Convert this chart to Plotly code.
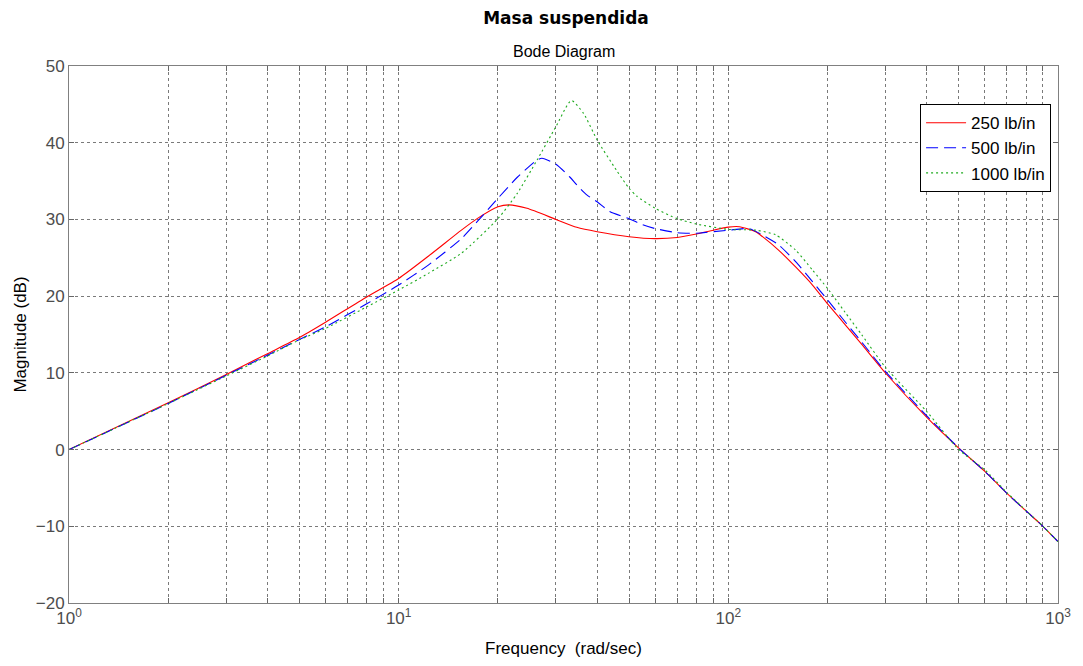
import plotly.graph_objects as go

# ---- data (frequency in rad/sec, magnitude in dB) ----
w_250 = [1, 2, 3, 4, 5, 6, 8, 10, 12.3, 15.5, 17.3, 20, 21.6, 24.5, 30, 34.7,
         40, 50, 60, 70, 80, 90, 100, 108, 121, 127, 142, 160, 180, 200, 226, 254,
         300, 400, 500, 600, 700, 800, 900, 1000]
db_250 = [0, 6.1, 9.8, 12.5, 14.6, 16.6, 19.9, 22.3, 25.2, 28.6, 30.1, 31.65,
          31.9, 31.45, 30.0, 28.97, 28.4, 27.75, 27.5, 27.65, 28.1, 28.6, 29.0, 29.05,
          28.4, 27.75, 26.0, 23.8, 21.45, 19.0, 16.3, 13.7, 9.95, 4.2, 0.2, -2.85,
          -5.7, -8.0, -10.0, -12.0]

w_500 = [1, 2, 3, 4, 5, 6, 8, 10, 12.3, 15.5, 17.3, 20, 22.9, 26.3, 27.2, 30, 33.1,
         34.7, 37.2, 40, 43.8, 50, 55, 60, 70, 80, 100, 115.6, 127, 142, 160, 180,
         200, 226, 254, 300, 400, 500, 600, 700, 800, 900, 1000]
db_500 = [0, 6.0, 9.7, 12.3, 14.35, 16.0, 19.0, 21.45, 24.05, 27.5, 29.7, 32.75,
          35.5, 37.75, 37.97, 37.2, 35.5, 34.5, 33.2, 32.3, 31.0, 30.1, 29.3, 28.8,
          28.27, 28.2, 28.6, 28.8, 27.97, 26.7, 24.5, 21.9, 19.5, 16.66, 14.0, 10.15,
          4.4, 0.2, -2.85, -5.7, -8.0, -10.0, -12.0]

w_1000 = [1, 2, 3, 4, 5, 6, 8, 10, 12.3, 15.5, 20, 22.9, 26.3, 30, 33.4, 36.4,
          40, 45.8, 50, 52.7, 60, 70, 80, 100, 121, 139, 160, 180, 200, 226, 254,
          300, 400, 500, 600, 700, 800, 900, 1000]
db_1000 = [0, 6.0, 9.6, 12.2, 14.3, 15.8, 18.6, 20.8, 22.97, 25.6, 30.1, 33.4,
           37.75, 42.1, 45.5, 43.8, 40.35, 36.4, 34.05, 33.05, 31.45, 30.1, 29.4,
           28.7, 28.6, 28.0, 26.0, 23.4, 21.0, 17.9, 14.95, 10.7, 4.95, 0.0,
           -2.65, -5.6, -7.95, -10.0, -12.0]

series_names = ["250 lb/in", "500 lb/in", "1000 lb/in"]

x_tick_vals = [1, 2, 3, 4, 5, 6, 7, 8, 9, 10, 20, 30, 40, 50, 60, 70, 80, 90,
               100, 200, 300, 400, 500, 600, 700, 800, 900, 1000]
x_tick_text = ["10<sup>0</sup>", "", "", "", "", "", "", "", "",
               "10<sup>1</sup>", "", "", "", "", "", "", "", "",
               "10<sup>2</sup>", "", "", "", "", "", "", "", "",
               "10<sup>3</sup>"]
y_tick_vals = [-20, -10, 0, 10, 20, 30, 40, 50]

# ---- figure ----
fig = go.Figure()
fig.add_trace(go.Scatter(x=w_250, y=db_250, mode="lines", name=series_names[0],
                         line=dict(color="#ff0000", width=1.1, shape="spline", smoothing=0.6)))
fig.add_trace(go.Scatter(x=w_500, y=db_500, mode="lines", name=series_names[1],
                         line=dict(color="#0000ff", width=1.1, dash="12px,6px",
                                   shape="spline", smoothing=0.6)))
fig.add_trace(go.Scatter(x=w_1000, y=db_1000, mode="lines", name=series_names[2],
                         line=dict(color="#1faa1f", width=1.1, dash="2px,3px",
                                   shape="spline", smoothing=0.6)))

sans = "Liberation Sans, Arial, sans-serif"
axis_font = dict(family=sans, size=17, color="#4d4d4d")

fig.update_layout(
    width=1083, height=666,
    margin=dict(l=69, r=19, t=66, b=63),
    paper_bgcolor="white", plot_bgcolor="white",
    font=dict(family=sans, color="black"),
    title=dict(text="<b>Masa suspendida</b>", x=566 / 1083, xanchor="center",
               y=1 - 18 / 666, yanchor="middle",
               font=dict(family="DejaVu Sans, sans-serif", size=17, color="black")),
    showlegend=True,
    legend=dict(x=0.993, xanchor="right", y=0.929, yanchor="top",
                bgcolor="white", bordercolor="black", borderwidth=1,
                font=dict(family=sans, size=17, color="black"),
                tracegroupgap=0, itemwidth=40),
    annotations=[dict(text="Bode Diagram", xref="paper", yref="paper", x=0.5, y=1,
                      yshift=4, xanchor="center", yanchor="bottom", showarrow=False,
                      font=dict(family=sans, size=16, color="black"))],
)

fig.update_xaxes(
    type="log", range=[0, 3],
    tickmode="array", tickvals=x_tick_vals, ticktext=x_tick_text,
    tickfont=axis_font, ticks="inside", ticklen=5, tickcolor="#666666",
    showline=True, linecolor="#808080", linewidth=1, mirror="ticks",
    showgrid=True, gridcolor="#7a7a7a", gridwidth=1, griddash="3px,3px",
    zeroline=False,
    title=dict(text="Frequency  (rad/sec)", standoff=14,
               font=dict(family=sans, size=17, color="black")),
)
fig.update_yaxes(
    range=[-20, 50], tickmode="array", tickvals=y_tick_vals,
    tickfont=axis_font, ticks="inside", ticklen=5, tickcolor="#666666",
    showline=True, linecolor="#808080", linewidth=1, mirror="ticks",
    showgrid=True, gridcolor="#7a7a7a", gridwidth=1, griddash="3px,3px",
    zeroline=False,
    title=dict(text="Magnitude (dB)", standoff=4,
               font=dict(family=sans, size=17, color="black")),
)

fig.write_html("out.html")
